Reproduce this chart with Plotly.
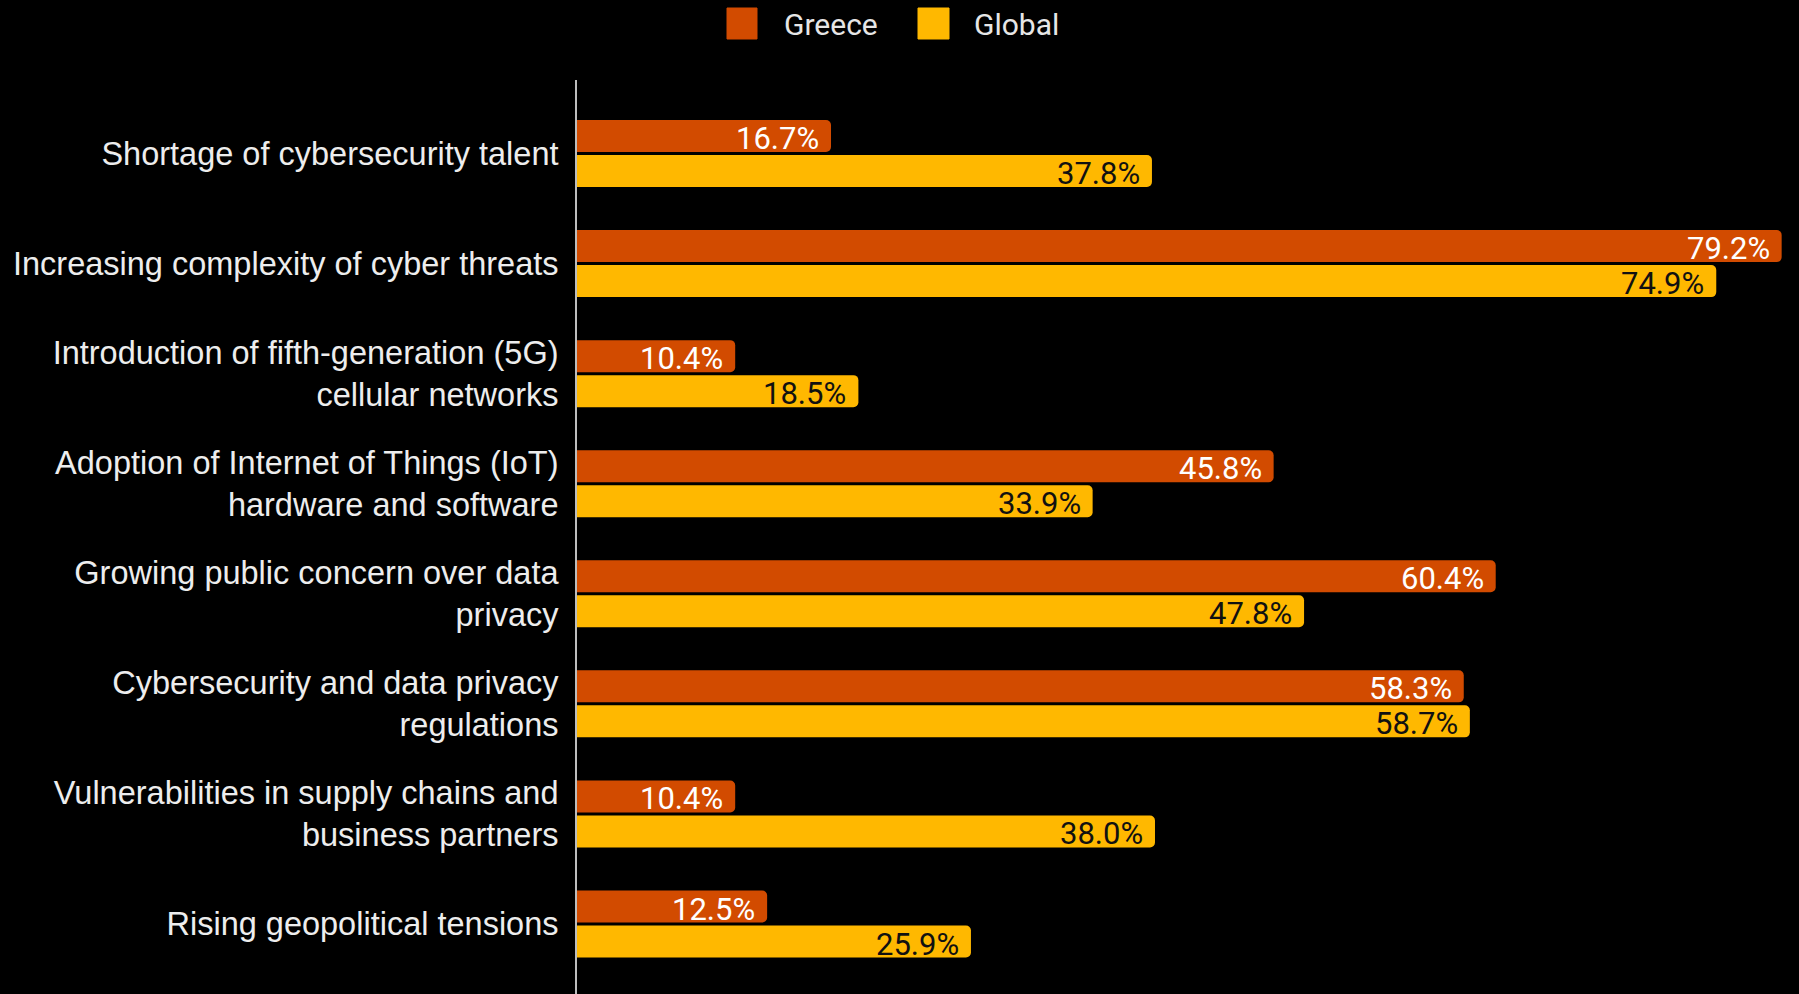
import plotly.graph_objects as go

categories = [
    "Shortage of cybersecurity talent",
    "Increasing complexity of cyber threats",
    "Introduction of fifth-generation (5G)<br>cellular networks",
    "Adoption of Internet of Things (IoT)<br>hardware and software",
    "Growing public concern over data<br>privacy",
    "Cybersecurity and data privacy<br>regulations",
    "Vulnerabilities in supply chains and<br>business partners",
    "Rising geopolitical tensions",
]
greece = [16.7, 79.2, 10.4, 45.8, 60.4, 58.3, 10.4, 12.5]
global_vals = [37.8, 74.9, 18.5, 33.9, 47.8, 58.7, 38.0, 25.9]
series_names = ["Greece", "Global"]
colors = ["#D24B00", "#FFB800"]

W, H = 1799, 994
L, R, T, B = 577, 0, 80, 0
pw, ph = W - L - R, H - T - B

fig = go.Figure()
series = [
    (series_names[0], greece, colors[0], "#FFFFFF", 15),
    (series_names[1], global_vals, colors[1], "#111111", -20),
]
for name, vals, col, tcol, ysh in series:
    fig.add_trace(go.Bar(
        y=categories, x=vals, name=name, orientation="h",
        marker=dict(color=col, line=dict(color=col, width=0)),
        showlegend=False, hoverinfo="x+y",
    ))
    # value labels anchored to bar ends via the axes
    for cat, v in zip(categories, vals):
        fig.add_annotation(
            x=v, y=cat, xref="x", yref="y",
            text=f"{v:.1f}%", showarrow=False,
            xanchor="right", yanchor="middle", xshift=-10, yshift=ysh,
            font=dict(family="Roboto", size=31, color=tcol),
        )

def px(X):
    return (X - L) / pw

def py(Y):
    return (H - B - Y) / ph

# manual legend
leg = [(727, 757, 782, series_names[0], colors[0]), (918, 949, 972, series_names[1], colors[1])]
for x0, x1, tx, name, col in leg:
    fig.add_shape(type="rect", xref="paper", yref="paper",
                  x0=px(x0), x1=px(x1), y0=py(39), y1=py(8),
                  fillcolor=col, line=dict(color=col, width=1))
    fig.add_annotation(xref="paper", yref="paper", x=px(tx), y=py(24),
                       text=name, showarrow=False, xanchor="left", yanchor="middle",
                       font=dict(family="Roboto", size=30, color="#E6E6E6"))

fig.update_layout(
    width=W, height=H,
    paper_bgcolor="#000000", plot_bgcolor="#000000",
    margin=dict(l=L, r=R, t=T, b=B, pad=0),
    barmode="group", bargap=0.364, bargroupgap=0.086,
    barcornerradius=5,
    showlegend=False,
)
fig.update_xaxes(range=[0, 80.34], visible=False, showgrid=False, zeroline=False)
fig.update_yaxes(
    range=[7.636, -0.668], type="category",
    showgrid=False, zeroline=False,
    showline=True, linecolor="#BDBDBD", linewidth=2,
    ticks="", ticklabelstandoff=10,
    tickfont=dict(family="Liberation Sans, Arial", size=32.5, color="#EDEDED"),
)

fig.write_html("out.html")
